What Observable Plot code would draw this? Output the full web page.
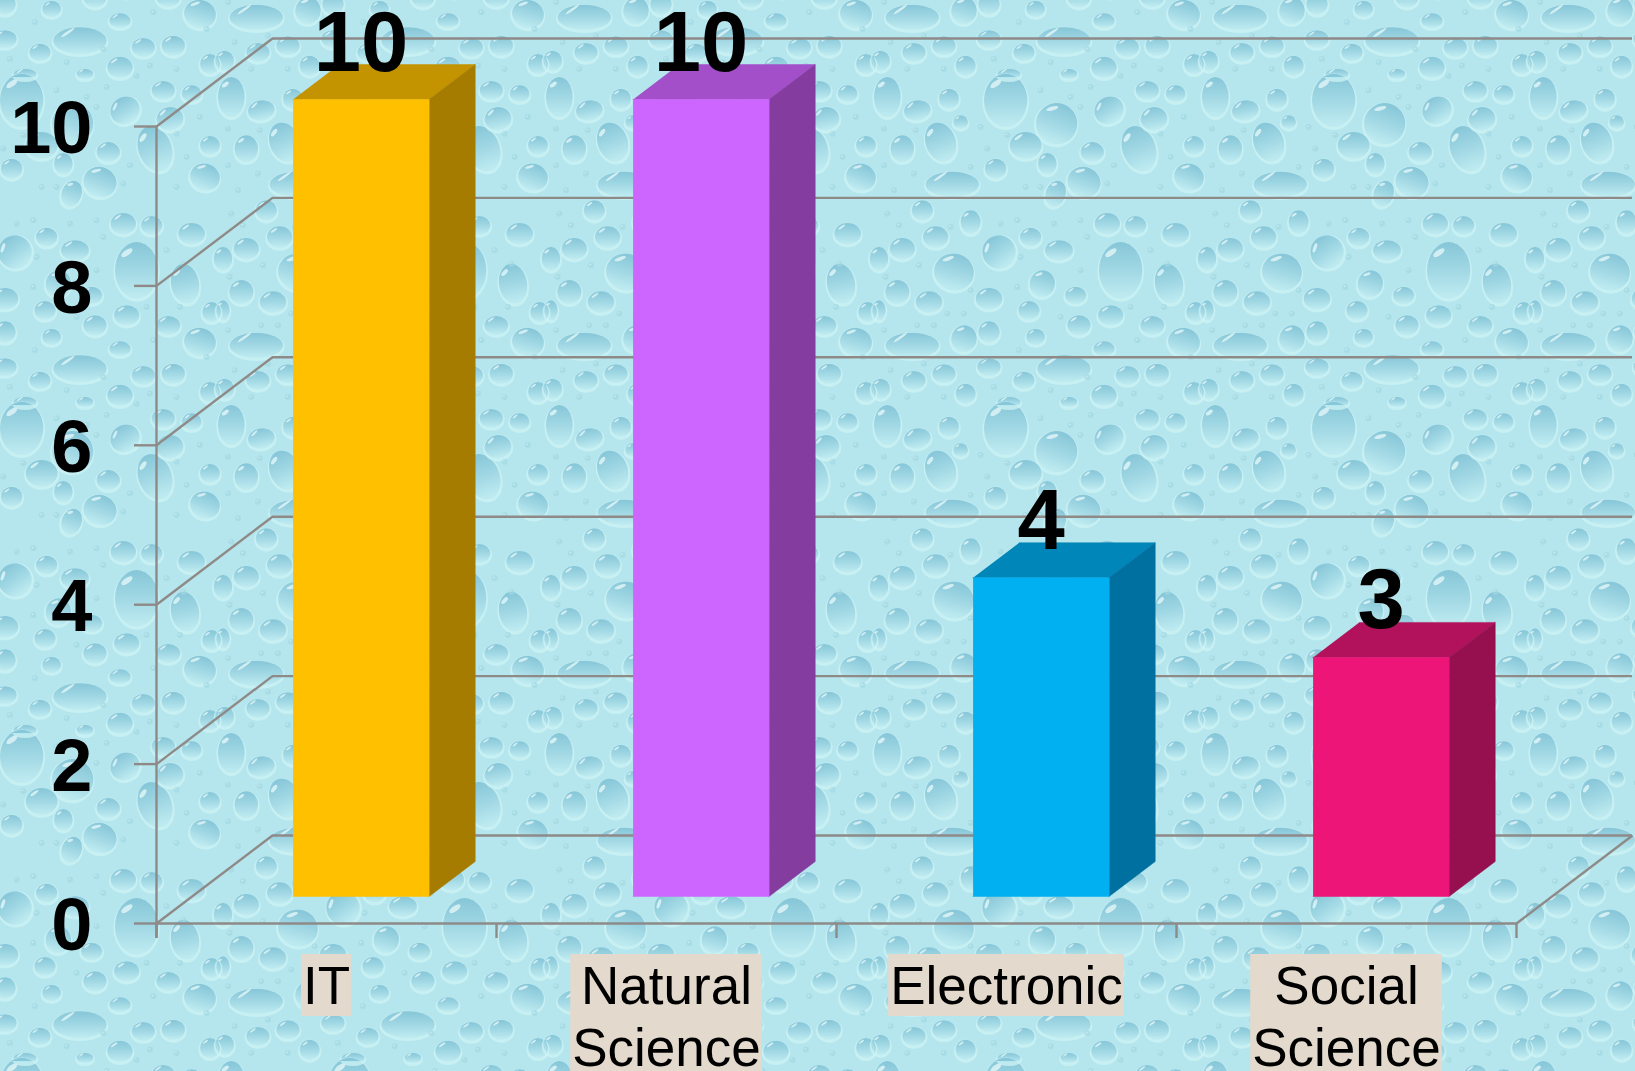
<!DOCTYPE html>
<html>
<head>
<meta charset="utf-8">
<script src="https://cdn.jsdelivr.net/npm/d3@7"></script>
<script src="https://cdn.jsdelivr.net/npm/@observablehq/plot@0.6"></script>
<style>
  html, body { margin: 0; padding: 0; overflow: hidden; width: 1635px; height: 1071px; background-color: #b6e6ed; }
  svg { display: block; max-width: none; }
</style>
</head>
<body>
<div id="chart"></div>
<script>
// ---- chart values ----
const categories = ["IT", "Natural\nScience", "Electronic", "Social\nScience"];
const values = [10, 10, 4, 3];
const frontColors = ["#FFC000", "#CC66FF", "#00B0F0", "#ED1578"];
const sideColors = ["#A67C00", "#843C9F", "#0070A0", "#960F4E"];
const topColors = ["#C49300", "#A24FC9", "#0086B8", "#B2125C"];
const yTicks = [0, 2, 4, 6, 8, 10];

// ---- drop texture of the slide background (decoration only) ----
const bigDrops = [[395,70,65,80,0],[548,140,62,62,20],[200,195,45,60,-20],[795,215,50,70,-20],[235,322,80,38,0],[630,315,50,45,20],[40,60,40,60,0],[705,100,45,40,-30],[840,125,40,35,-10],[455,205,48,40,0],[85,215,35,40,0],[655,225,35,30,0],[365,275,32,30,0],[520,260,28,32,0],[130,100,40,30,-10],[225,65,30,30,0],[820,40,35,28,0],[905,50,30,25,0],[960,205,30,28,0],[945,300,45,40,20],[260,135,22,20,0],[545,350,30,40,20],[375,525,50,50,-35],[240,585,60,55,15],[740,580,65,85,0],[885,620,42,60,-10],[85,515,38,32,0],[185,480,38,32,0],[290,435,30,35,0],[470,480,32,28,0],[555,520,42,30,0],[700,440,38,32,0],[785,445,32,28,0],[905,470,40,32,0],[145,400,32,30,0],[70,645,36,36,0],[165,675,40,32,0],[345,665,40,32,0],[505,620,38,40,15],[605,655,32,26,0],[465,700,32,28,0],[710,715,38,30,0],[965,705,28,30,0],[835,745,36,28,0],[615,745,35,30,0],[345,765,32,32,0],[485,780,28,24,0],[270,785,38,40,15],[115,805,80,38,0],[930,795,48,42,15],[690,815,32,22,0],[15,545,28,35,0],[15,700,20,30,0],[570,875,80,40,0],[210,890,35,28,0],[345,870,35,26,0],[120,910,35,28,0],[450,910,32,26,0],[760,895,35,28,0],[850,890,35,30,0],[275,950,30,30,0],[690,955,38,32,0],[960,945,30,30,0],[20,935,28,30,0],[405,975,35,15,0],[585,975,25,15,0]];
const smallDrops = [[30,155],[125,160],[320,150],[340,215],[290,270],[400,175],[590,60],[620,90],[500,40],[650,30],[30,265],[120,290],[720,265],[860,170],[930,120],[860,330],[890,240],[60,340],[455,330],[500,330],[700,320],[40,410],[75,445],[230,450],[380,440],[430,430],[620,430],[540,440],[640,480],[830,520],[620,580],[440,540],[135,565],[35,600],[290,640],[430,630],[220,710],[270,710],[130,745],[180,745],[560,720],[770,690],[870,690],[790,790],[435,820],[30,760],[880,560],[950,840],[50,880],[150,860],[530,940],[640,900],[210,960],[100,960],[860,960],[780,950],[360,930],[740,980]];

function textureTile() {
  const T = 328, z = 1 / 3;
  const one = ([cx, cy, rx, ry, r]) => {
    const x = cx * z, y = cy * z, a = rx * z, b = ry * z;
    const hx = x - a * 0.45, hy = y - b * 0.62;
    const hl = `<ellipse cx="${hx}" cy="${hy}" rx="${a * 0.3}" ry="${Math.max(0.8, b * 0.1)}" fill="#eefcfc" opacity=".7" transform="rotate(-35 ${hx} ${hy})"/>`;
    return `<g transform="rotate(${r} ${x} ${y})"><ellipse cx="${x}" cy="${y + 1.5}" rx="${a + 1.6}" ry="${b + 1.6}" fill="#cdf3f5" opacity=".75"/><ellipse cx="${x}" cy="${y}" rx="${a}" ry="${b}" fill="url(#d)"/>${hl}</g>`;
  };
  const dots = smallDrops.map(([x, y]) => `<circle cx="${x * z}" cy="${y * z}" r="3" fill="#a3d9e3" opacity=".7"/><circle cx="${x * z - 0.8}" cy="${y * z - 0.8}" r=".7" fill="#e4f9fa" opacity=".8"/>`).join("");
  const shapes = bigDrops.map(d => one(d)).join("") + dots;
  const wrap = [[0,0],[T,0],[-T,0],[0,T],[0,-T]].map(([dx, dy]) => `<g transform="translate(${dx} ${dy})">${shapes}</g>`).join("");
  return `<svg xmlns="http://www.w3.org/2000/svg" width="${T}" height="${T}"><defs><filter id="s" x="0" y="0" width="1" height="1"><feGaussianBlur stdDeviation=".55"/></filter><linearGradient id="d" x1="0" y1="0" x2="0" y2="1"><stop offset="0" stop-color="#86c6d8"/><stop offset=".5" stop-color="#a1d8e4"/><stop offset=".95" stop-color="#bdeaf0"/></linearGradient></defs><rect width="${T}" height="${T}" fill="#b6e6ed"/><g filter="url(#s)">${wrap}</g></svg>`;
}
document.body.style.backgroundImage = `url("data:image/svg+xml,${encodeURIComponent(textureTile())}")`;
document.body.style.backgroundPosition = "218px 77px";

// ---- oblique projection, expressed in the units of the two scales ----
const unitX = 340, unitY = 79.7;            // pixels per scale unit
const depthX = 116 / unitX, depthY = 88 / unitY; // full floor depth
const barNear = 27 / 88, barFar = 62 / 88;  // bar position within the floor depth
const barHalf = 68 / unitX, barShift = -1 / unitX;
const project = (x, y, d) => ({x: x + d * depthX, y: y + d * depthY});

const bars = categories.map((name, i) => ({name, i, value: values[i], cx: i + 0.5}));
const polygon = (b, kind) => {
  const l = b.cx + barShift - barHalf, r = b.cx + barShift + barHalf, v = b.value;
  if (kind === "front") return [project(l, 0, barNear), project(r, 0, barNear), project(r, v, barNear), project(l, v, barNear)];
  if (kind === "side") return [project(r, 0, barNear), project(r, 0, barFar), project(r, v, barFar), project(r, v, barNear)];
  return [project(l, v, barNear), project(r, v, barNear), project(r, v, barFar), project(l, v, barFar)];
};
const face = (b, kind, fill) => Plot.line(polygon(b, kind), {x: "x", y: "y", fill, stroke: fill, strokeWidth: 0.5});

// label plates sized from the text itself
const labelSize = 53;
const measure = document.createElement("canvas").getContext("2d");
measure.font = `${labelSize}px "Liberation Sans"`;
const plateWidth = name => (Math.max(...name.split("\n").map(s => measure.measureText(s).width)) + 3) / unitX;
const plates = bars.map(b => {
  const lines = b.name.split("\n").length;
  return {x1: b.cx - plateWidth(b.name) / 2, x2: b.cx + plateWidth(b.name) / 2, y1: -31 / unitY, y2: (lines > 1 ? -160 : -93) / unitY};
});

const grid = "#8e8a88", lineW = 2.4;
const chart = Plot.plot({
  width: 1635,
  height: 1071,
  marginLeft: 156,
  marginRight: 119,
  marginTop: 126,
  marginBottom: 148,
  x: {type: "linear", domain: [0, categories.length], axis: null},
  y: {type: "linear", domain: [0, 10], axis: null},
  style: {background: "transparent", fontFamily: '"Liberation Sans", Arial, sans-serif', overflow: "visible"},
  marks: [
    // walls and floor
    Plot.ruleY(yTicks, {y: d => d + depthY, x1: depthX, x2: categories.length + depthX, stroke: grid, strokeWidth: lineW}),
    Plot.link(yTicks, {x1: 0, y1: d => d, x2: depthX, y2: d => d + depthY, stroke: grid, strokeWidth: lineW}),
    Plot.link([0], {x1: categories.length, y1: 0, x2: categories.length + depthX, y2: depthY, stroke: grid, strokeWidth: lineW}),
    Plot.ruleX([0], {x: 0, y1: -15 / unitY, y2: 10, stroke: grid, strokeWidth: lineW}),
    Plot.ruleY([0], {y: 0, x1: 0, x2: categories.length, stroke: grid, strokeWidth: lineW}),
    Plot.ruleX(d3.range(categories.length + 1), {y1: -15 / unitY, y2: 0, stroke: grid, strokeWidth: lineW}),
    Plot.ruleY(yTicks, {x1: -22 / unitX, x2: 0, stroke: grid, strokeWidth: lineW}),
    // bars
    ...bars.map(b => face(b, "top", topColors[b.i])),
    ...bars.map(b => face(b, "side", sideColors[b.i])),
    ...bars.map(b => face(b, "front", frontColors[b.i])),
    // y axis numbers
    Plot.axisY(yTicks, {anchor: "left", tickSize: 0, tickPadding: 64, tickFormat: d => String(d), dy: 3, fontSize: 74, fontWeight: "bold", fill: "#000", label: null}),
    // value labels
    Plot.text(bars, {
      x: b => project(b.cx + barShift, b.value, barNear).x,
      y: b => project(b.cx, b.value, barNear).y,
      text: b => String(b.value),
      dy: -29, lineAnchor: "bottom", textAnchor: "middle",
      fontSize: 85, fontWeight: "bold", fill: "#000"
    }),
    // category plates and labels
    Plot.rect(plates, {x1: "x1", x2: "x2", y1: "y1", y2: "y2", fill: "#e3d9cc"}),
    Plot.text(bars, {
      x: "cx", y: 0, text: "name", dy: 37, lineAnchor: "top", textAnchor: "middle",
      fontSize: labelSize, lineHeight: 61.5 / labelSize, fill: "#000"
    })
  ]
});
document.getElementById("chart").appendChild(chart);
</script>
</body>
</html>
